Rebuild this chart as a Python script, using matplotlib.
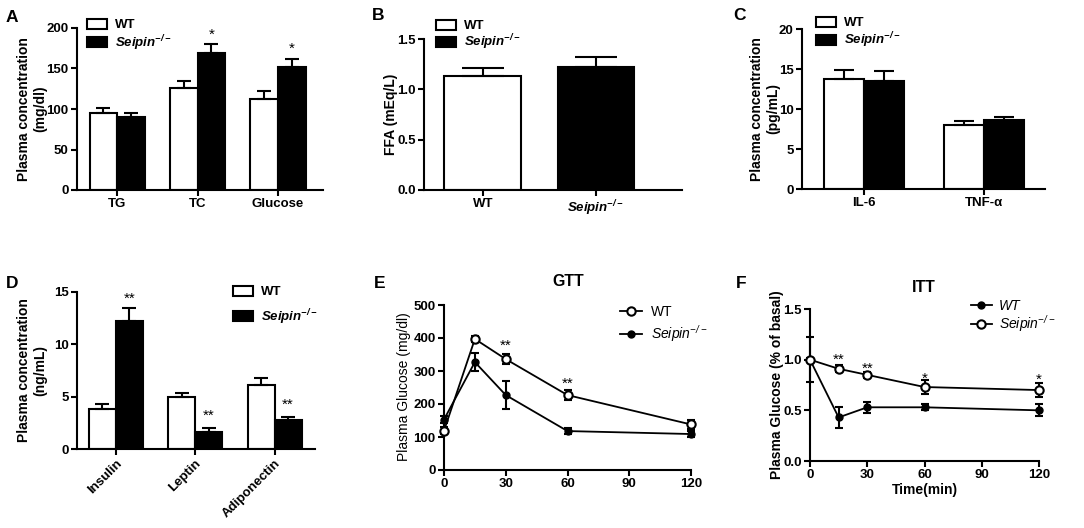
import numpy as np
import matplotlib
matplotlib.use('Agg')
import matplotlib.pyplot as plt
from matplotlib.patches import Patch
from matplotlib.lines import Line2D

plt.rcParams['font.family'] = ['Liberation Sans', 'DejaVu Sans']
plt.rcParams['font.weight'] = 'bold'
plt.rcParams['mathtext.default'] = 'regular'

KO = 'Seipin$^{-/-}$'

# A - lipids / glucose
a_cats = ['TG', 'TC', 'Glucose']
a_wt = [95, 126, 112]
a_wt_err = [6, 9, 10]
a_ko = [90, 169, 152]
a_ko_err = [5, 11, 10]
a_stars = ['', '*', '*']
a_star_y = [0, 198, 181]

# B - FFA
b_cats = ['WT', KO]
b_vals = [1.13, 1.22]
b_err = [0.08, 0.10]

# C - cytokines
c_cats = ['IL-6', 'TNF-α']
c_wt = [13.75, 8.0]
c_wt_err = [1.15, 0.55]
c_ko = [13.5, 8.65]
c_ko_err = [1.3, 0.3]

# D - hormones
d_cats = ['Insulin', 'Leptin', 'Adiponectin']
d_wt = [3.8, 4.95, 6.1]
d_wt_err = [0.5, 0.4, 0.7]
d_ko = [12.2, 1.62, 2.76]
d_ko_err = [1.3, 0.35, 0.32]
d_star_y = [14.8, 3.7, 4.7]

# E - GTT
t = [0, 15, 30, 60, 120]
e_wt = [119, 397, 336, 227, 138]
e_wt_err = [10, 8, 15, 15, 13]
e_ko = [153, 327, 227, 118, 109]
e_ko_err = [12, 28, 42, 10, 10]
e_star_t = [30, 60]
e_star_y = [391, 275]

# F - ITT
f_wt = [1.0, 0.43, 0.53, 0.53, 0.50]
f_wt_err = [0.22, 0.10, 0.057, 0.03, 0.06]
f_ko = [1.0, 0.91, 0.85, 0.73, 0.70]
f_ko_err = [0.02, 0.033, 0.033, 0.066, 0.07]
f_stars = ['**', '**', '*', '*']
f_star_t = [15, 30, 60, 120]
f_star_y = [1.05, 0.96, 0.86, 0.85]

W, H = 1084, 528
fig = plt.figure(figsize=(W / 100, H / 100), dpi=100)


def box(l, r, tp, b):
    return fig.add_axes([l / W, 1 - b / H, (r - l) / W, (b - tp) / H])


def style(ax):
    for s in ['top', 'right']:
        ax.spines[s].set_visible(False)
    for s in ['left', 'bottom']:
        ax.spines[s].set_linewidth(1.5)
    ax.tick_params(width=1.5, length=4, labelsize=9.5, pad=2)


def ylab(x, y, txt, **kw):
    fig.text(x / W, 1 - y / H, txt, rotation=90, ha='center', va='center',
             fontsize=10, multialignment='center', linespacing=1.15, **kw)


def letter(x, y, s):
    fig.text(x / W, 1 - y / H, s, ha='center', va='center', fontsize=12.5, fontweight='bold')


def bar_legend(ax, x, y, pitch):
    h = [Patch(facecolor='white', edgecolor='black', linewidth=1.5),
         Patch(facecolor='black', edgecolor='black', linewidth=1.5)]
    leg = ax.legend(h, ['WT', KO], loc='upper left', bbox_to_anchor=(x / W, 1 - y / H),
                    bbox_transform=fig.transFigure, frameon=False, fontsize=9.5,
                    borderpad=0, borderaxespad=0, handlelength=1.5, handleheight=0.75,
                    handletextpad=0.6, labelspacing=pitch)
    leg.get_texts()[1].set_fontstyle('italic')
    return leg


ekw = dict(elinewidth=1.5, capthick=1.5, ecolor='black')


def grouped(ax, cats, wt, wt_err, ko, ko_err, w, cap):
    x = np.arange(len(cats))
    ax.bar(x - w / 2, wt, w, color='white', edgecolor='black', linewidth=1.5,
           yerr=[np.zeros(len(wt)), wt_err], capsize=cap, error_kw=ekw, zorder=2)
    ax.bar(x + w / 2, ko, w, color='black', edgecolor='black', linewidth=1.5,
           yerr=[np.zeros(len(ko)), ko_err], capsize=cap, error_kw=ekw, zorder=2)
    ax.set_xticks(x)
    ax.set_xticklabels(cats)
    return x


def star(ax, x, y, s, size=11):
    ax.annotate(s, (x, y), xytext=(0, -6.5), textcoords='offset points', ha='center',
                va='baseline', fontsize=size, fontweight='normal', annotation_clip=False)


# ---- A
ax = box(77, 323, 28, 190)
x = grouped(ax, a_cats, a_wt, a_wt_err, a_ko, a_ko_err, 0.343, 4.7)
ax.set_xlim(-0.5, 2.56)
ax.set_ylim(0, 200)
ax.set_yticks([0, 50, 100, 150, 200])
style(ax)
for i, s in enumerate(a_stars):
    if s:
        star(ax, x[i] + 0.343 / 2, a_star_y[i], s)
bar_legend(ax, 87, 19, 0.12)
ylab(32, 109, 'Plasma concentration\n(mg/dl)')
letter(12, 17, 'A')

# ---- B
ax = box(424, 682, 39, 190)
xb = np.arange(len(b_cats))
ax.bar(xb, b_vals, 0.68, color=['white', 'black'], edgecolor='black', linewidth=1.5,
       yerr=[np.zeros(len(b_vals)), b_err], capsize=15, error_kw=ekw, zorder=2)
ax.set_xticks(xb)
ax.set_xticklabels(b_cats)
ax.get_xticklabels()[1].set_fontstyle('italic')
ax.set_xlim(-0.52, 1.76)
ax.set_ylim(0, 1.5)
ax.set_yticks([0, 0.5, 1.0, 1.5])
ax.set_yticklabels(['0.0', '0.5', '1.0', '1.5'])
style(ax)
bar_legend(ax, 436, 20, 0.0)
ylab(391, 114, 'FFA (mEq/L)')
letter(378, 15, 'B')

# ---- C
ax = box(802, 1045, 29, 189)
grouped(ax, c_cats, c_wt, c_wt_err, c_ko, c_ko_err, 0.334, 7)
ax.set_xlim(-0.52, 1.51)
ax.set_ylim(0, 20)
ax.set_yticks([0, 5, 10, 15, 20])
style(ax)
bar_legend(ax, 816, 17, 0.08)
ylab(765, 109, 'Plasma concentration\n(pg/mL)')
letter(739, 15, 'C')

# ---- D
ax = box(77, 315, 292, 449)
x = grouped(ax, d_cats, d_wt, d_wt_err, d_ko, d_ko_err, 0.34, 5)
ax.set_xlim(-0.49, 2.51)
ax.set_ylim(0, 15)
ax.set_yticks([0, 5, 10, 15])
style(ax)
for lab in ax.get_xticklabels():
    lab.set_rotation(45)
    lab.set_ha('right')
    lab.set_rotation_mode('anchor')
for i in range(len(d_cats)):
    star(ax, x[i] + 0.17, d_star_y[i], '**')
bar_legend(ax, 233, 286, 0.65)
ylab(32, 370, 'Plasma concentration\n(ng/mL)')
letter(12, 283, 'D')

# ---- E
ax = box(444, 691, 305, 470)
ax.errorbar(t, e_wt, yerr=e_wt_err, color='black', lw=1.3, marker='o', ms=6,
            mfc='white', mec='black', mew=1.5, capsize=3, elinewidth=1.5,
            capthick=1.5, clip_on=False, zorder=3)
ax.errorbar(t, e_ko, yerr=e_ko_err, color='black', lw=1.3, marker='o', ms=5,
            mfc='black', mec='black', capsize=3, elinewidth=1.5, capthick=1.5,
            clip_on=False, zorder=3)
ax.set_xlim(0, 120)
ax.set_xticks([0, 30, 60, 90, 120])
ax.set_ylim(0, 500)
ax.set_yticks([0, 100, 200, 300, 400, 500])
style(ax)
for tt, yy in zip(e_star_t, e_star_y):
    star(ax, tt, yy, '**')
h = [Line2D([], [], color='black', lw=1.3, marker='o', ms=6, mfc='white', mew=1.5),
     Line2D([], [], color='black', lw=1.3, marker='o', ms=5, mfc='black')]
leg = ax.legend(h, ['WT', KO], loc='upper left', bbox_to_anchor=(620 / W, 1 - 305 / H),
                bbox_transform=fig.transFigure, frameon=False,
                borderpad=0, borderaxespad=0, handlelength=1.6, handletextpad=0.6,
                labelspacing=0.3, prop=dict(size=10, weight='normal'))
leg.get_texts()[1].set_fontstyle('italic')
ylab(404, 387, 'Plasma Glucose (mg/dl)', fontweight='normal')
fig.text(568 / W, 1 - 282 / H, 'GTT', ha='center', va='center', fontsize=11.5, fontweight='bold')
letter(380, 283, 'E')

# ---- F
ax = box(810, 1039, 309, 461)
ax.errorbar(t, f_wt, yerr=f_wt_err, color='black', lw=1.3, marker='o', ms=5,
            mfc='black', mec='black', capsize=3, elinewidth=1.5, capthick=1.5,
            clip_on=False, zorder=3)
ax.errorbar(t, f_ko, yerr=f_ko_err, color='black', lw=1.3, marker='o', ms=6,
            mfc='white', mec='black', mew=1.5, capsize=3, elinewidth=1.5,
            capthick=1.5, clip_on=False, zorder=3)
ax.set_xlim(0, 120)
ax.set_xticks([0, 30, 60, 90, 120])
ax.set_ylim(0, 1.5)
ax.set_yticks([0, 0.5, 1.0, 1.5])
ax.set_yticklabels(['0.0', '0.5', '1.0', '1.5'])
style(ax)
for s, tt, yy in zip(f_stars, f_star_t, f_star_y):
    star(ax, tt, yy, s)
ax.set_xlabel('Time(min)', fontsize=10, fontweight='bold', labelpad=1)
h = [Line2D([], [], color='black', lw=1.3, marker='o', ms=5, mfc='black'),
     Line2D([], [], color='black', lw=1.3, marker='o', ms=6, mfc='white', mew=1.5)]
leg = ax.legend(h, ['WT', KO], loc='upper left', bbox_to_anchor=(971 / W, 1 - 299 / H),
                bbox_transform=fig.transFigure, frameon=False,
                borderpad=0, borderaxespad=0, handlelength=1.5, handletextpad=0.5,
                labelspacing=0.0, prop=dict(size=10, weight='normal', style='italic'))
ylab(777, 385, 'Plasma Glucose (% of basal)')
fig.text(924 / W, 1 - 287 / H, 'ITT', ha='center', va='center', fontsize=11.5, fontweight='bold')
letter(741, 283, 'F')

fig.savefig('out.png', dpi=100)
